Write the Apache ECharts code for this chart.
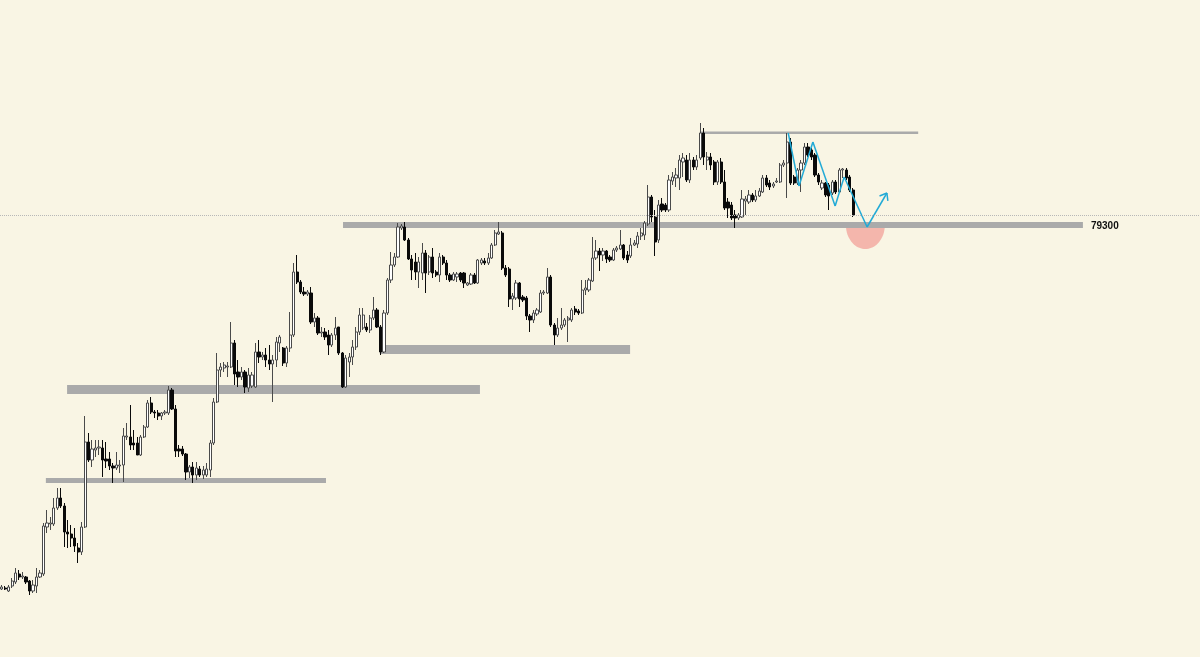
<!DOCTYPE html>
<html><head><meta charset="utf-8">
<script src="https://cdn.jsdelivr.net/npm/echarts@6/dist/echarts.min.js"></script>
<style>html,body{margin:0;padding:0;background:#f9f5e4;}#chart{width:1200px;height:657px;}</style>
</head><body><div id="chart"></div>
<script>
// ---- candle data (open / close / low / high), in price ----
const opens = [
72020,72040,71980,72080,72160,72320,72260,72260,72180,71980,72080,72260,
72320,73260,73320,73320,73640,73840,73680,73160,73120,73040,72840,72760,
73260,74960,74600,74800,74840,74840,74620,74620,74480,74440,74480,74500,75060,
75060,74940,74940,74700,75060,75260,75740,75560,75540,75480,75540,75540,
76000,75620,74820,74820,74720,74360,74460,74300,74420,74300,74300,74400,74940,
75760,76400,76440,76460,76460,76940,76360,76260,76360,76040,76080,76060,
76760,76660,76700,76600,76520,76600,76940,76840,76540,76840,77100,78360,
78160,77960,77920,77940,77360,77440,77140,77160,77100,76900,77100,77260,
76740,76060,76560,76660,76860,77160,77240,77260,77200,77440,77600,77260,
76760,77540,78200,78500,78660,79240,79260,79000,78620,78560,78360,78340,
78740,78360,78660,78360,78300,78660,78540,78300,78200,78260,78340,78340,
78100,78120,78300,78140,78540,78580,78540,78640,78900,79120,79140,78440,
78420,77820,77840,78140,77860,77840,77480,77400,77520,77560,77940,77940,
78260,77300,77100,77240,77300,77400,77400,77620,77580,77540,78000,78000,
78180,78640,78780,78700,78780,78660,78600,78800,78820,78900,78700,
78680,78900,78920,79080,79100,79320,79860,79460,79000,79720,79700,
79600,80180,80240,80240,80560,80600,80200,80600,80460,80640,81140,80600,
80660,80560,80160,80560,80160,79760,79700,79500,79440,79460,
79780,79760,79900,79800,79880,79960,80240,80140,80080,
80160,80160,80500,80540,80960,80260,80140,80400,80540,80860,80800,80700,
80300,80040,80140,80100,79940,80160,79960,80400,80400,80260,80000
];
const closes = [
72060,72020,72060,72180,72340,72260,72280,72160,71980,72100,72260,72340,
73280,73340,73340,73640,73840,73680,73160,73120,73040,72880,72760,73260,
74960,74600,74820,74840,74860,74600,74580,74480,74440,74500,74500,75080,75080,
74900,74900,74700,75060,75260,75740,75560,75540,75480,75540,75560,76000,
75620,74780,74780,74720,74360,74460,74300,74440,74300,74400,74420,74940,75760,
76400,76460,76500,76480,76940,76320,76260,76360,76060,76300,76300,76760,
76660,76700,76600,76520,76600,76960,77060,76540,76840,77100,78360,78160,
77960,77920,77960,77360,77440,77140,77160,77060,76900,77100,77240,76740,
76060,76640,76660,76860,77160,77500,77500,77200,77440,77600,77260,76760,
77540,78200,78500,78660,79260,79280,79000,78620,78400,78360,78560,78740,
78340,78660,78340,78300,78660,78540,78300,78200,78320,78320,78200,78140,
78140,78300,78140,78600,78600,78540,78640,78900,79140,79160,78440,78300,
77820,77880,78140,77820,77800,77480,77400,77540,77600,77940,77960,78260,
77300,77100,77240,77300,77400,77440,77600,77560,77540,78000,78040,78200,
78640,78780,78700,78780,78620,78600,78800,78840,78900,78640,78600,
78900,78940,79080,79140,79340,79860,79460,78960,79700,79600,79600,
80200,80260,80300,80600,80640,80200,80600,80460,80600,81140,80660,80660,
80500,80160,80560,80160,79640,79640,79440,79440,79500,79820,
79820,79900,79800,79880,79980,80240,80100,80060,80120,
80180,80500,80540,80960,80140,80140,80400,80540,80860,80700,80660,80300,
80160,80140,79900,79880,80160,79960,80400,80420,80240,80000,79500
];
const lows = [
72000,72000,71960,72040,72120,72200,72220,72120,71900,71940,71940,72240,
72280,73140,73200,73280,73600,73640,72860,72840,72860,72760,72540,72700,
73240,74560,74460,74660,74700,74260,74440,74400,74140,74400,74340,74160,75000,
74800,74800,74700,74680,75040,75240,75520,75440,75400,75400,75500,75500,
75600,74660,74660,74680,74200,74240,74140,74200,74260,74220,74260,74260,74900,
75740,76260,76360,76260,76440,76100,76060,76200,75940,75960,76040,76040,
76540,76600,76460,76400,75760,76460,76760,76480,76460,76760,77060,78120,
77920,77880,77880,77320,77260,77100,77060,77000,76700,76860,77000,76700,
76040,76040,76260,76500,76800,77100,77200,77160,77140,77400,77240,76700,
76740,77500,78140,78460,78640,79200,78980,78600,78200,78200,78040,78200,
77940,78300,78240,78260,78160,78500,78200,78160,78180,78160,78160,78040,
78080,78100,78120,78120,78500,78500,78500,78620,78880,79100,78400,78260,
77660,77600,77800,77660,77760,77400,77160,77340,77480,77540,77900,77920,
77260,76900,77060,77200,77260,76960,77360,77500,77500,77520,77900,77960,
78160,78600,78380,78580,78540,78560,78580,78760,78800,78600,78540,
78640,78880,78840,79000,79000,79280,79360,78680,78940,79560,79560,
79560,80100,80060,80000,80260,80160,80140,80400,80400,80600,80500,80400,
80400,80100,80100,80120,79600,79440,79400,79240,79400,79440,
79500,79720,79760,79760,79860,79940,80060,80000,80040,
80140,80140,80460,79840,80100,80100,80100,79960,80500,80660,80600,80260,
80100,80000,79860,79600,79900,79920,79940,80240,80200,79960,79460
];
const highs = [
72100,72080,72100,72240,72440,72400,72360,72280,72200,72200,72440,72400,
73340,73600,73460,73840,74040,74040,73740,73400,73300,73240,72940,73360,
75480,75140,75000,75000,75000,75000,74960,74760,74540,74760,74600,75240,75340,
75700,75200,75060,75100,75300,75800,75860,75600,75600,75560,75600,76080,
76040,75700,74900,74880,74740,74500,74560,74560,74480,74480,74540,75000,75840,
76740,76540,76560,76560,77360,77000,76600,76460,76400,76440,76360,76940,
77000,76760,76840,76900,76700,77060,77100,76860,76880,77560,78540,78700,
78200,78060,78000,78060,77540,77480,77260,77240,77200,77140,77460,77260,
76760,76700,76740,77000,77260,77640,77640,77340,77500,77860,77640,77300,
77600,78240,78760,78740,79340,79320,79360,79040,78700,78740,78660,78940,
78800,78700,78840,78400,78740,78700,78600,78340,78360,78360,78360,78360,
78160,78340,78340,78620,78640,78640,78740,78940,79200,79360,79180,78500,
78460,77940,78200,78160,77900,77880,77520,77600,77640,78000,78000,78440,
78300,77340,77440,77640,77440,77480,77640,77680,77620,78200,78200,78240,
79060,79000,78840,78840,78800,78700,78840,78880,79200,78920,78780,
79040,79000,79160,79240,79380,80100,79900,79600,79800,79840,79740,
80300,80360,80440,80700,80740,80700,80740,80660,80700,81340,81240,80760,
80740,80600,80600,80640,80400,79840,79760,79600,79540,80000,
79880,80000,79940,80000,80040,80300,80300,80200,80160,
80240,80540,80600,81140,81040,80300,80440,80600,80940,80940,80840,80740,
80340,80200,80160,80140,80200,80200,80440,80440,80440,80300,80040
];

// ---- axis slots (candles plus empty space on the right) ----
const slotCount = 345;
const priceMin = 70660, priceMax = 83800;

// ---- horizontal zones: [fromSlot, toSlot, upperPrice, lowerPrice] ----
const zoneFrom  = [98.2, 200.9, 108.8, 18.8, 12.7];
const zoneTo    = [311.1, 263.7, 180.8, 137.6, 93.3];
const zoneUpper = [79360, 81170, 76900, 76100, 74240];
const zoneLower = [79240, 81120, 76720, 75920, 74140];
const zoneLabels = ['79300', '', '', '', ''];

// ---- projected path (blue) ----
const pathX = [226.3, 229.4, 233.4, 239.8, 242.4, 249.0, 254.7];
const pathY = [81140, 80080, 80960, 79680, 80260, 79260, 79940];

// ---- red bowl: centre slot, top price, half width (slots), bottom price ----
const bowlCenter = 248.5, bowlTop = 79300, bowlHalfWidth = 5.6, bowlBottom = 78820;

const chart = echarts.init(document.getElementById('chart'), null, {renderer: 'canvas'});
const candles = opens.map((o, i) => [o, closes[i], lows[i], highs[i]]);
const slots = Array.from({length: slotCount}, (_, i) => String(i));
const zoneData = zoneFrom.map((f, i) => [f, zoneTo[i], zoneUpper[i], zoneLower[i]]);
const pathData = pathX.map((x, i) => [x, pathY[i]]);

const option = {
  backgroundColor: '#f9f5e4',
  animation: false,
  grid: {left: 0, right: 1, top: 0, bottom: 0},
  xAxis: [
    {type: 'category', data: slots, boundaryGap: true, show: false},
    {type: 'value', min: -0.5, max: slotCount - 0.5, show: false}
  ],
  yAxis: {type: 'value', min: priceMin, max: priceMax, show: false},
  series: [
    {
      type: 'custom', xAxisIndex: 1, z: 1, silent: true,
      data: [[bowlCenter, bowlTop, bowlHalfWidth, bowlBottom]],
      renderItem: function (params, api) {
        const c = api.coord([api.value(0), api.value(1)]);
        const e = api.coord([api.value(0) + api.value(2), api.value(3)]);
        const rx = e[0] - c[0], ry = e[1] - c[1];
        const pts = [];
        for (let k = 0; k <= 40; k++) {
          const a = Math.PI * k / 40;
          pts.push([c[0] - rx * Math.cos(a), c[1] + ry * Math.sin(a)]);
        }
        return {type: 'polygon', shape: {points: pts}, style: {fill: 'rgba(240,120,115,0.5)'}};
      }
    },
    {
      type: 'custom', xAxisIndex: 1, z: 2, silent: true,
      data: zoneData,
      renderItem: function (params, api) {
        const p1 = api.coord([api.value(0), api.value(2)]);
        const p2 = api.coord([api.value(1), api.value(3)]);
        const children = [{
          type: 'rect',
          shape: {x: p1[0], y: p1[1], width: p2[0] - p1[0], height: p2[1] - p1[1]},
          style: {fill: '#aaaaaa'}
        }];
        const lab = zoneLabels[params.dataIndex];
        if (lab) {
          children.push({
            type: 'text',
            style: {
              text: lab, x: p2[0] + 8, y: (p1[1] + p2[1]) / 2 + 1,
              fill: '#111111', font: 'bold 10px "Liberation Sans", Arial, sans-serif',
              align: 'left', verticalAlign: 'middle'
            }
          });
        }
        return {type: 'group', children: children};
      }
    },
    {
      type: 'candlestick', z: 3,
      data: candles,
      barWidth: 2.7,
      itemStyle: {
        color: '#ffffff', color0: '#0a0a0a',
        borderColor: '#4a4a4a', borderColor0: '#0a0a0a', borderWidth: 1
      },
      markLine: {
        silent: true, symbol: ['none', 'none'], label: {show: false},
        lineStyle: {type: 'dotted', color: '#b8b8b8', width: 1},
        data: [{yAxis: closes[closes.length - 1]}]
      }
    },
    {
      type: 'custom', xAxisIndex: 1, z: 4, silent: true,
      data: pathData,
      renderItem: function (params, api) {
        const i = params.dataIndex;
        if (i === 0) return null;
        const a = api.coord(pathData[i - 1]);
        const b = api.coord(pathData[i]);
        const lineStyle = {stroke: '#22aad6', lineWidth: 1.5};
        const children = [{type: 'line', shape: {x1: a[0], y1: a[1], x2: b[0], y2: b[1]}, style: lineStyle}];
        if (i === pathData.length - 1) {
          const dx = a[0] - b[0], dy = a[1] - b[1];
          const len = Math.sqrt(dx * dx + dy * dy);
          const ux = dx / len, uy = dy / len, L = 8, ang = 0.65;
          [ang, -ang].forEach(function (t) {
            const rx = ux * Math.cos(t) - uy * Math.sin(t);
            const ry = ux * Math.sin(t) + uy * Math.cos(t);
            children.push({type: 'line', shape: {x1: b[0], y1: b[1], x2: b[0] + rx * L, y2: b[1] + ry * L}, style: lineStyle});
          });
        }
        return {type: 'group', children: children};
      }
    }
  ]
};
chart.setOption(option);
</script>
</body></html>
